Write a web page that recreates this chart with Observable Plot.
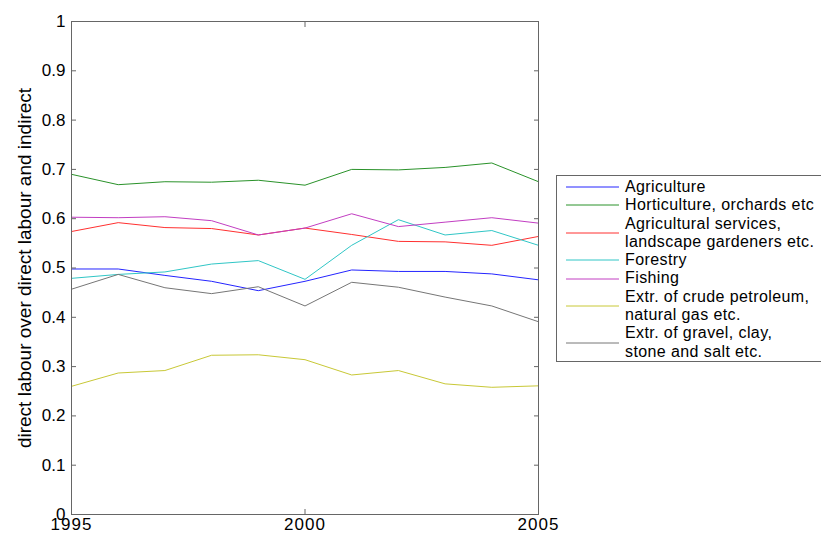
<!DOCTYPE html>
<html>
<head>
<meta charset="utf-8">
<script src="https://cdn.jsdelivr.net/npm/d3@7"></script>
<script src="https://cdn.jsdelivr.net/npm/@observablehq/plot@0.6"></script>
<style>
  body { margin: 0; background: #fff; }
  #wrap { position: relative; width: 821px; height: 534px; overflow: hidden; background: #fff;
          font-family: "Liberation Sans", Arial, sans-serif; }
  #wrap svg { display: block; }
  g[aria-label="x-axis tick label"] text { letter-spacing: 1px; }
  #legend { position: absolute; left: 556px; top: 175px; width: 320px; height: 187px;
            border: 1px solid #666; background: #fff; box-sizing: border-box; padding-top: 2px; }
  .item { position: relative; }
  .item svg { position: absolute; left: 9px; top: 50%; margin-top: -1px; }
  .item .lab { margin-left: 68px; font-size: 16px; line-height: 18.3px; letter-spacing: 0.4px;
               color: #000; white-space: nowrap; }
</style>
</head>
<body>
<div id="wrap"></div>
<script>
const years = [1995, 1996, 1997, 1998, 1999, 2000, 2001, 2002, 2003, 2004, 2005];
const seriesNames = [
  "Agriculture",
  "Horticulture, orchards etc",
  "Agricultural services, landscape gardeners etc.",
  "Forestry",
  "Fishing",
  "Extr. of crude petroleum, natural gas etc.",
  "Extr. of gravel, clay, stone and salt etc."
];
const legendLines = [
  ["Agriculture"],
  ["Horticulture, orchards etc"],
  ["Agricultural services,", "landscape gardeners etc."],
  ["Forestry"],
  ["Fishing"],
  ["Extr. of crude petroleum,", "natural gas etc."],
  ["Extr. of gravel, clay,", "stone and salt etc."]
];
const agriculture  = [0.498, 0.498, 0.485, 0.473, 0.454, 0.473, 0.496, 0.493, 0.493, 0.488, 0.476];
const horticulture = [0.690, 0.669, 0.675, 0.674, 0.678, 0.668, 0.700, 0.699, 0.704, 0.713, 0.675];
const agriServices = [0.574, 0.592, 0.582, 0.580, 0.567, 0.581, 0.568, 0.554, 0.553, 0.546, 0.564];
const forestry     = [0.479, 0.487, 0.492, 0.508, 0.515, 0.477, 0.546, 0.598, 0.567, 0.576, 0.546];
const fishing      = [0.603, 0.602, 0.604, 0.596, 0.567, 0.581, 0.610, 0.584, 0.593, 0.602, 0.591];
const petroleum    = [0.260, 0.287, 0.292, 0.323, 0.324, 0.314, 0.283, 0.292, 0.265, 0.258, 0.261];
const gravel       = [0.457, 0.487, 0.460, 0.448, 0.462, 0.423, 0.471, 0.461, 0.441, 0.423, 0.391];
const colors = ["#2424ff", "#2a922a", "#ff3030", "#30c6c6", "#c23ec2", "#c8c836", "#767676"];
const yTicks = [0, 0.1, 0.2, 0.3, 0.4, 0.5, 0.6, 0.7, 0.8, 0.9, 1];
const xTicks = [1995, 2000, 2005];
const yLabel = "direct labour over direct labour and indirect";

const seriesValues = [agriculture, horticulture, agriServices, forestry, fishing, petroleum, gravel];
const data = [];
seriesValues.forEach((vals, i) => vals.forEach((v, j) => data.push({series: seriesNames[i], year: years[j], value: v})));

const axisColor = "#666";
const chart = Plot.plot({
  width: 821,
  height: 534,
  marginLeft: 71,
  marginRight: 283,
  marginTop: 21,
  marginBottom: 20,
  style: {fontFamily: '"Liberation Sans", Arial, sans-serif', fontSize: "17px", color: "#000", background: "#fff", overflow: "visible"},
  x: {domain: [1995, 2005]},
  y: {domain: [0, 1]},
  color: {domain: seriesNames, range: colors},
  marks: [
    Plot.line(data, {x: "year", y: "value", z: "series", stroke: "series", strokeWidth: 1}),
    Plot.frame({stroke: axisColor}),
    Plot.axisY(yTicks, {anchor: "left", tickSize: 0, tickPadding: 6, tickFormat: d => String(d), label: null, fontSize: 17}),
    Plot.axisY(yTicks, {anchor: "left", tickSize: 5, dx: 5, fill: "none", stroke: axisColor, label: null}),
    Plot.axisY(yTicks, {anchor: "right", tickSize: 5, dx: -5, fill: "none", stroke: axisColor, label: null}),
    Plot.axisX(xTicks, {anchor: "bottom", tickSize: 0, tickPadding: 3, tickFormat: d => String(d), label: null, fontSize: 17}),
    Plot.axisX(xTicks, {anchor: "bottom", tickSize: 5, dy: -5, fill: "none", stroke: axisColor, label: null}),
    Plot.axisX(xTicks, {anchor: "top", tickSize: 5, dy: 5, fill: "none", stroke: axisColor, label: null}),
    Plot.text([yLabel], {frameAnchor: "left", rotate: -90, dx: -47, fontSize: 19, textAnchor: "middle", lineAnchor: "middle", fill: "#000"})
  ]
});
const wrap = document.getElementById("wrap");
wrap.appendChild(chart);

const legend = document.createElement("div");
legend.id = "legend";
legendLines.forEach((lines, i) => {
  const item = document.createElement("div");
  item.className = "item";
  const ns = "http://www.w3.org/2000/svg";
  const s = document.createElementNS(ns, "svg");
  s.setAttribute("width", 53); s.setAttribute("height", 2);
  const ln = document.createElementNS(ns, "line");
  ln.setAttribute("x1", 0); ln.setAttribute("x2", 53); ln.setAttribute("y1", 1); ln.setAttribute("y2", 1);
  ln.setAttribute("stroke", colors[i]); ln.setAttribute("stroke-width", 1);
  s.appendChild(ln);
  item.appendChild(s);
  const lab = document.createElement("div");
  lab.className = "lab";
  lab.innerHTML = lines.map(t => t.replace(/&/g, "&amp;")).join("<br>");
  item.appendChild(lab);
  legend.appendChild(item);
});
wrap.appendChild(legend);
</script>
</body>
</html>
